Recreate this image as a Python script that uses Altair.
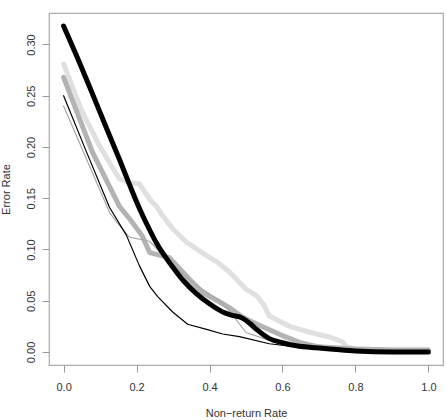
import altair as alt
import pandas as pd

# Non-return rate (x) and error rate (y) for each curve
thick_black_x = [0.0, 0.044, 0.079, 0.118, 0.153, 0.181, 0.208, 0.236, 0.255, 0.299, 0.33, 0.364, 0.40, 0.436, 0.46, 0.49, 0.51, 0.529, 0.564, 0.60, 0.638, 0.69, 0.729, 0.80, 0.90, 1.0]
thick_black_y = [0.318, 0.282, 0.252, 0.218, 0.188, 0.163, 0.140, 0.119, 0.106, 0.083, 0.069, 0.057, 0.047, 0.039, 0.036, 0.033, 0.028, 0.022, 0.013, 0.009, 0.006, 0.004, 0.003, 0.001, 0.0, 0.0]

light_gray_x = [0.0, 0.05, 0.10, 0.153, 0.18, 0.208, 0.236, 0.255, 0.271, 0.30, 0.337, 0.392, 0.42, 0.455, 0.501, 0.529, 0.55, 0.564, 0.619, 0.693, 0.729, 0.765, 0.775, 0.80, 0.90, 1.0]
light_gray_y = [0.281, 0.235, 0.200, 0.169, 0.165, 0.164, 0.149, 0.142, 0.133, 0.120, 0.107, 0.094, 0.088, 0.078, 0.061, 0.055, 0.045, 0.035, 0.025, 0.0175, 0.0146, 0.0097, 0.005, 0.003, 0.002, 0.002]

mid_gray_x = [0.0, 0.079, 0.153, 0.181, 0.216, 0.236, 0.29, 0.345, 0.381, 0.427, 0.455, 0.49, 0.53, 0.60, 0.65, 0.70, 0.80, 0.90, 1.0]
mid_gray_y = [0.268, 0.195, 0.142, 0.130, 0.113, 0.097, 0.092, 0.071, 0.058, 0.049, 0.043, 0.034, 0.027, 0.016, 0.009, 0.005, 0.003, 0.002, 0.002]

thin_black_x = [0.0, 0.063, 0.126, 0.172, 0.208, 0.236, 0.258, 0.299, 0.34, 0.392, 0.436, 0.482, 0.564, 0.638, 0.75, 0.85, 1.0]
thin_black_y = [0.250, 0.195, 0.141, 0.114, 0.084, 0.064, 0.054, 0.039, 0.027, 0.022, 0.0175, 0.015, 0.008, 0.005, 0.001, 0.0, 0.0]

thin_gray_x = [0.0, 0.063, 0.126, 0.145, 0.18, 0.236, 0.27, 0.345, 0.427, 0.455, 0.50, 0.55, 0.62, 0.70, 0.80, 1.0]
thin_gray_y = [0.240, 0.188, 0.136, 0.127, 0.112, 0.108, 0.095, 0.070, 0.050, 0.040, 0.019, 0.013, 0.008, 0.004, 0.001, 0.0]

x_ticks = [0.0, 0.2, 0.4, 0.6, 0.8, 1.0]
y_ticks = [0.0, 0.05, 0.10, 0.15, 0.20, 0.25, 0.30]

series = [
    ("light", light_gray_x, light_gray_y, "#e0e0e0", 5, "linear"),
    ("mid", mid_gray_x, mid_gray_y, "#b3b3b3", 5, "linear"),
    ("thin_gray", thin_gray_x, thin_gray_y, "#a8a8a8", 1.2, "linear"),
    ("thin_black", thin_black_x, thin_black_y, "#000000", 1.2, "linear"),
    ("thick", thick_black_x, thick_black_y, "#000000", 5, "monotone"),
]

ymax = max(thick_black_y)
xdom = [-0.04, 1.04]
ydom = [-0.04 * ymax, ymax * 1.04]

xscale = alt.Scale(domain=xdom, nice=False, zero=False)
yscale = alt.Scale(domain=ydom, nice=False, zero=False)

xaxis = alt.Axis(values=x_ticks, format=".1f", domain=False, grid=False,
                 tickColor="#999999", tickSize=7, labelFontSize=11, labelColor="#333333",
                 labelPadding=9, labelFont="Liberation Sans", title="Non\u2212return Rate",
                 titleFont="Liberation Sans", titleFontSize=11, titleFontWeight="normal",
                 titleColor="#333333", titleY=48, titleBaseline="middle")
yaxis = alt.Axis(values=y_ticks, format=".2f", domain=False, grid=False,
                 tickColor="#999999", tickSize=7, labelFontSize=11, labelColor="#333333",
                 labelAngle=270, labelAlign="center", labelBaseline="bottom", labelPadding=6,
                 labelFont="Liberation Sans", title="Error Rate", titleFont="Liberation Sans",
                 titleFontSize=11, titleFontWeight="normal", titleColor="#333333",
                 titleAngle=270, titleX=-43, titleY=176, titleBaseline="middle", titleAlign="center")

layers = []
for i, (name, xs, ys, color, w, interp) in enumerate(series):
    df = pd.DataFrame({"x": xs, "y": ys, "order": list(range(len(xs)))})
    enc = dict(
        x=alt.X("x:Q", scale=xscale, axis=xaxis),
        y=alt.Y("y:Q", scale=yscale, axis=yaxis),
        order="order:Q",
    )
    layers.append(
        alt.Chart(df).mark_line(color=color, strokeWidth=w, strokeCap="round",
                                strokeJoin="round", interpolate=interp, clip=True).encode(**enc)
    )

chart = alt.layer(*layers).properties(
    width=394, height=352,
    padding={"left": 49, "top": 13, "right": 3, "bottom": 55},
    autosize=alt.AutoSizeParams(type="none"),
    background="white",
).configure_view(stroke="#aaaaaa", strokeWidth=1.2)

chart.save("out.html", embed_options={"renderer": "svg", "actions": False})
